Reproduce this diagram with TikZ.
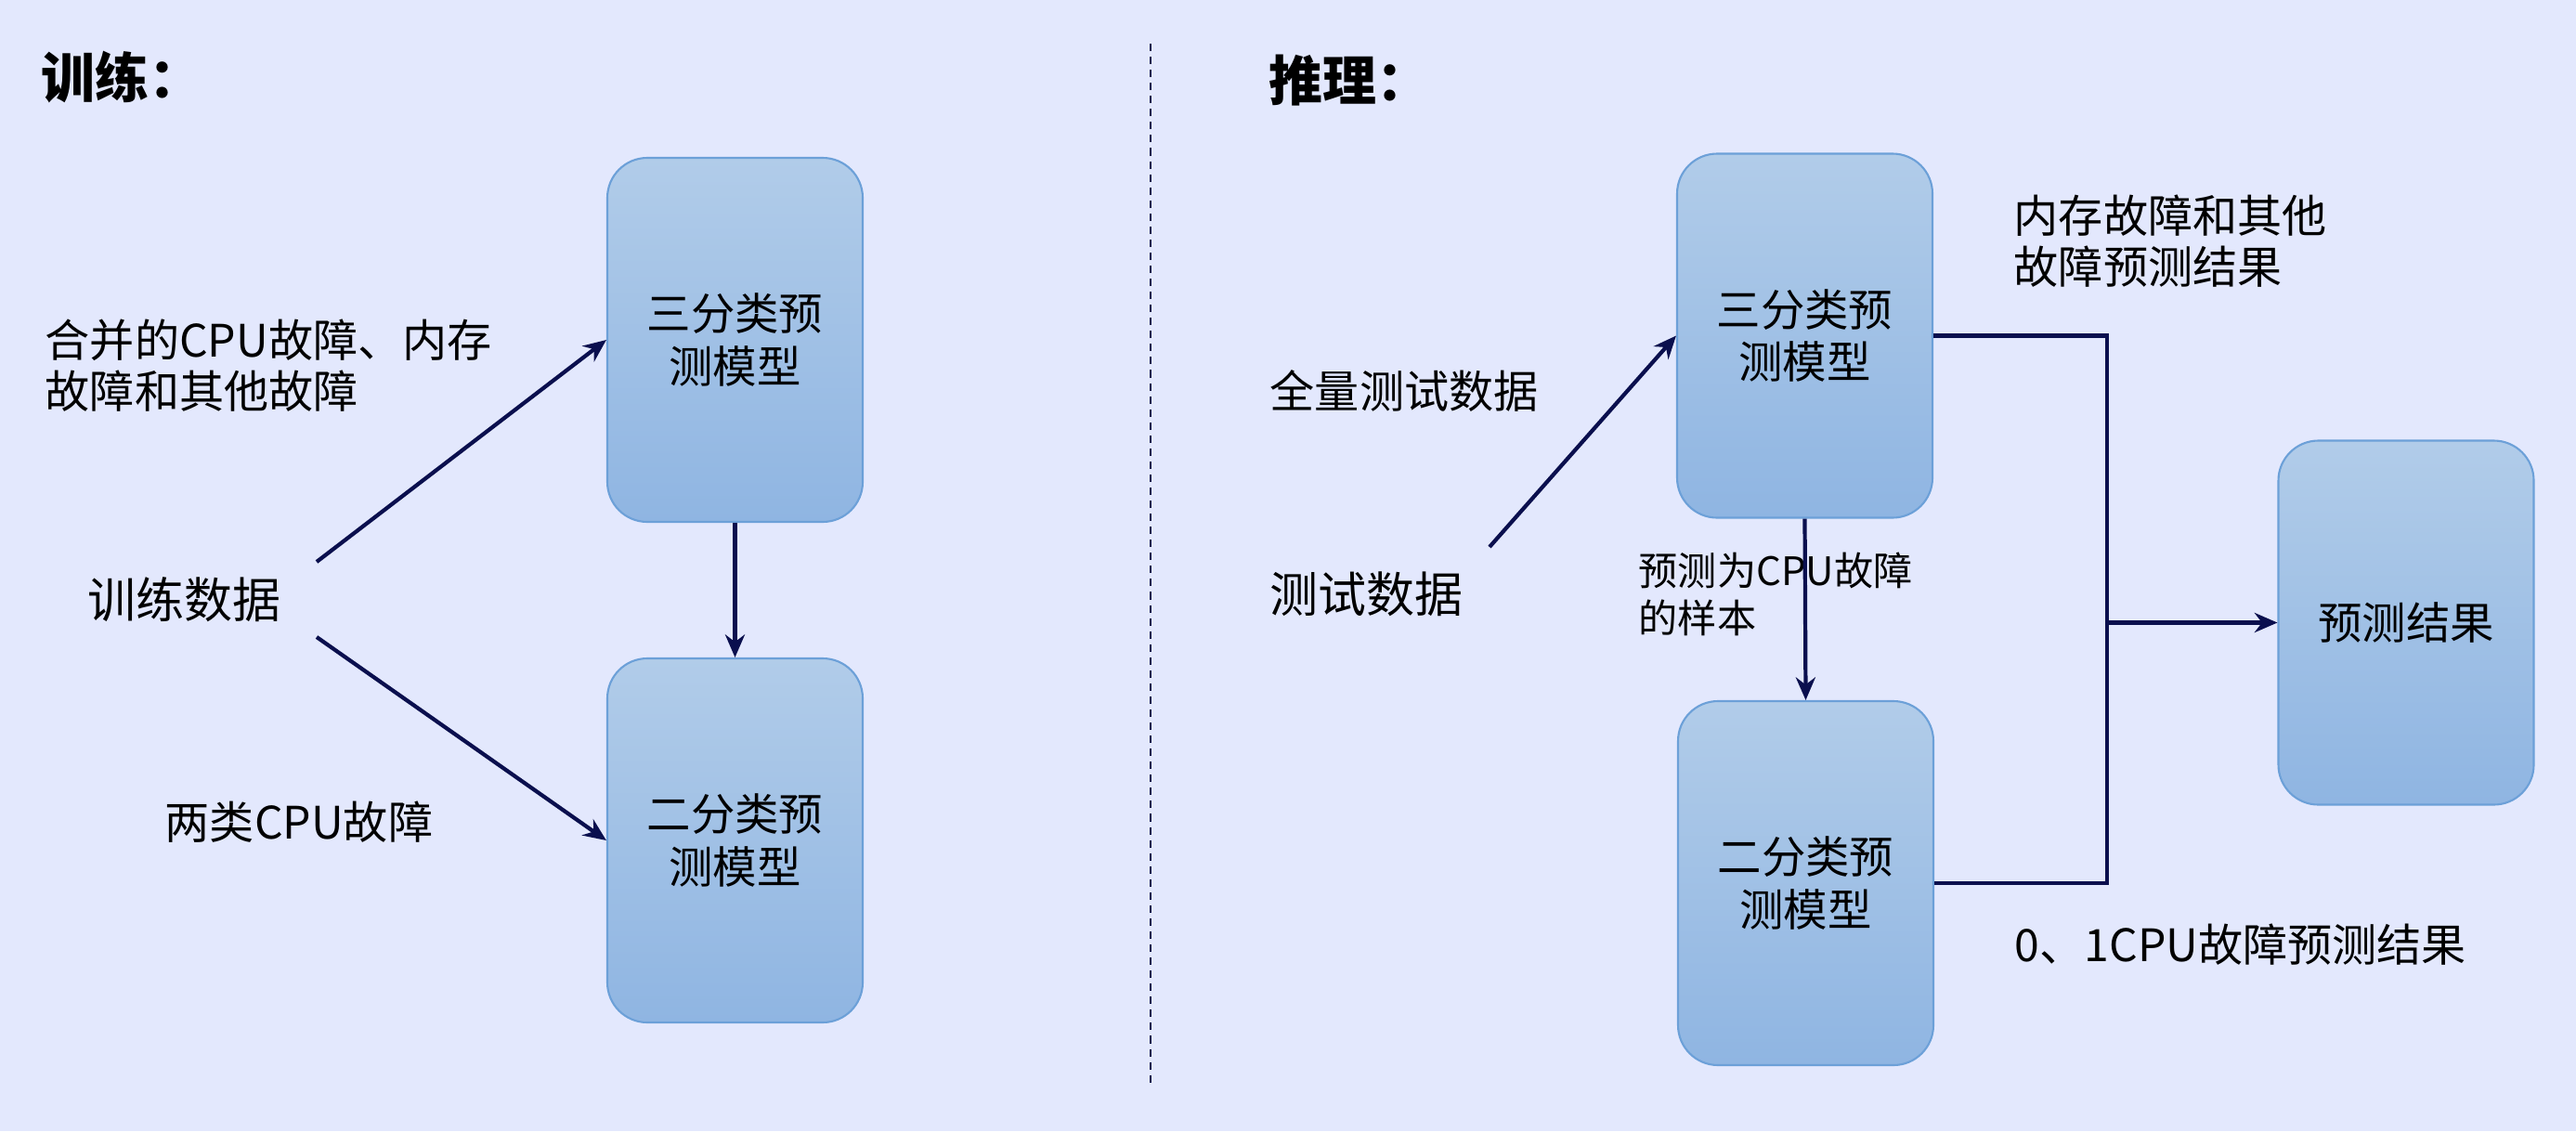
\documentclass[tikz,border=0pt]{standalone}
\usepackage{fontspec}
\setmainfont{Noto Sans CJK SC}
\usetikzlibrary{positioning,arrows.meta}
\definecolor{bgblue}{HTML}{E3E8FD}
\definecolor{boxtop}{HTML}{B1CCE9}
\definecolor{boxbot}{HTML}{8FB5E2}
\definecolor{boxline}{HTML}{6CA0D8}
\definecolor{navy}{HTML}{0A0F4E}

\begin{document}
\begin{tikzpicture}[
    model/.style={rectangle, rounded corners=0.43cm, draw=boxline, line width=0.6pt, top color=boxtop, bottom color=boxbot, minimum width=2.75cm, minimum height=3.92cm, align=center, font=\fontsize{13.5}{16.2}\selectfont},
    txt/.style={anchor=west, inner sep=0pt, align=left, font=\fontsize{13.7}{15.6}\selectfont},
    bigtxt/.style={txt, font=\fontsize{14.8}{18}\selectfont},
    smalltxt/.style={txt, font=\fontsize{12}{14.5}\selectfont},
    heading/.style={txt, font=\fontsize{16.5}{19}\selectfont\bfseries},
    wire/.style={draw=navy, line width=1.2pt},
    link/.style={wire, -{Stealth[length=7pt, width=6pt]}}
]
    \fill[bgblue] (0,0) rectangle (27.74,-12.18);

    % training
    \node[heading] (train00) at (0.44,-0.83) {训练：};
    \node[model] (tri00) at (7.915,-3.66) {三分类预\\测模型};
    \node[model] (bin00) at (7.915,-9.05) {二分类预\\测模型};
    \node[bigtxt] (data00) at (0.94,-6.46) {训练数据};
    \node[txt] (merged00) at (0.48,-3.935) {合并的CPU故障、内存\\故障和其他故障};
    \node[txt] (cpu00) at (1.77,-8.85) {两类CPU故障};
    \coordinate (up00) at (3.41,-6.05);
    \coordinate (down00) at (3.41,-6.86);

    \draw[link] (up00) -- (tri00.west);
    \draw[link] (down00) -- (bin00.west);
    \draw[link] (tri00.south) -- (bin00.north);

    \draw[navy, line width=0.6pt, dash pattern=on 2.3pt off 1.7pt] (12.39,-0.47) -- (12.39,-11.68);

    % inference
    \node[heading] (infer01) at (13.66,-0.87) {推理：};
    \node[model] (tri01) at (19.435,-3.615) {三分类预\\测模型};
    \node[model] (bin01) at (19.445,-9.51) {二分类预\\测模型};
    \node[model] (res01) at (25.91,-6.705) {预测结果};
    \node[txt] (full01) at (13.67,-4.21) {全量测试数据};
    \node[bigtxt] (data01) at (13.67,-6.40) {测试数据};
    \node[smalltxt] (cpu01) at (17.64,-6.395) {预测为CPU故障\\的样本};
    \node[txt] (mem01) at (21.68,-2.60) {内存故障和其他\\故障预测结果};
    \node[txt] (bin01out) at (21.69,-10.17) {0、1CPU故障预测结果};
    \coordinate (in01) at (16.04,-5.89);
    \coordinate (join01) at (22.69,-6.705);

    \draw[link] (in01) -- (tri01.west);
    \draw[link] (tri01.south) -- (bin01.north);
    \draw[wire] (tri01.east) -| (join01);
    \draw[wire] (bin01.east) -| (join01);
    \draw[link] (join01) -- (res01.west);
\end{tikzpicture}
\end{document}
